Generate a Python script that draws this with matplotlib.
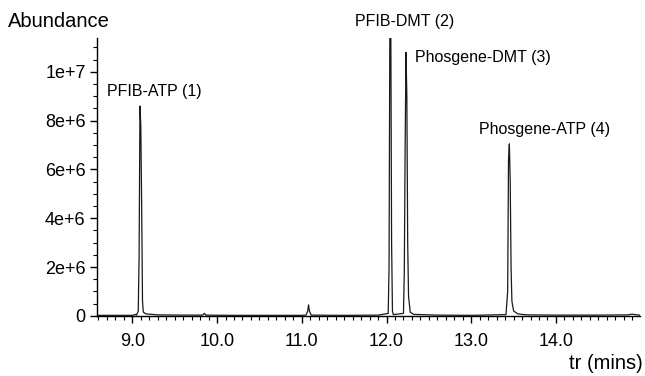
import matplotlib
matplotlib.use("Agg")
import matplotlib.pyplot as plt
from matplotlib.ticker import MultipleLocator, FixedLocator, FixedFormatter

plt.rcParams['font.family'] = ['Liberation Sans', 'DejaVu Sans']

# Chromatogram trace (time in min, abundance)
tr_mins = [8.58, 8.80, 9.00, 9.04, 9.05, 9.07, 9.08, 9.09, 9.10, 9.11, 9.12, 9.13,
           9.16, 9.30, 9.60, 9.83, 9.85, 9.87, 10.20, 10.60, 11.00, 11.05, 11.07,
           11.08, 11.09, 11.11, 11.50, 11.90, 12.02, 12.03, 12.04, 12.05, 12.06,
           12.07, 12.08, 12.20, 12.21, 12.22, 12.23, 12.24, 12.25, 12.26, 12.28,
           12.32, 12.60, 13.00, 13.41, 13.43, 13.44, 13.45, 13.46, 13.47, 13.48,
           13.50, 13.55, 13.65, 14.00, 14.50, 14.85, 14.90, 14.95, 14.99]
abundance = [2e4, 2e4, 2e4, 6e4, 3e4, 2e5, 2.5e6, 8.6e6, 7.8e6, 4.5e6, 6e5, 1.5e5,
             8e4, 4e4, 3e4, 3e4, 1e5, 3e4, 2e4, 2e4, 2e4, 3e4, 2e5,
             4.5e5, 2e5, 3e4, 2e4, 3e4, 1e5, 2e6, 1.25e7, 1.25e7, 3e6,
             2e5, 5e4, 1e5, 1.8e6, 7e6, 1.08e7, 9e6, 3e6, 8e5, 1.5e5,
             6e4, 3e4, 2e4, 5e4, 1e6, 6.4e6, 7.05e6, 5.5e6, 2e6, 6e5,
             2e5, 8e4, 4e4, 3e4, 3e4, 4e4, 7e4, 4e4, 3e4]

peak_labels = ['PFIB-ATP (1)', 'PFIB-DMT (2)', 'Phosgene-DMT (3)', 'Phosgene-ATP (4)']
label_x = [8.698, 11.626, 12.334, 13.090]
label_y = [9.20e6, 1.207e7, 1.059e7, 7.64e6]

ytick_values = [0, 2e6, 4e6, 6e6, 8e6, 1e7]
ytick_labels = ['0', '2e+6', '4e+6', '6e+6', '8e+6', '1e+7']
xtick_values = [9.0, 10.0, 11.0, 12.0, 13.0, 14.0]
xtick_labels = ['9.0', '10.0', '11.0', '12.0', '13.0', '14.0']

fig = plt.figure(figsize=(6.45, 3.76), dpi=100)
ax = fig.add_axes([0.150, 0.160, 0.842, 0.739])

ax.plot(tr_mins, abundance, color='#1a1a1a', linewidth=0.9)

ax.set_xlim(8.58, 14.99)
ax.set_ylim(0, 1.139e7)

ax.spines['top'].set_visible(False)
ax.spines['right'].set_visible(False)
ax.spines['left'].set_linewidth(1.0)
ax.spines['bottom'].set_linewidth(1.0)

ax.xaxis.set_major_locator(FixedLocator(xtick_values))
ax.xaxis.set_major_formatter(FixedFormatter(xtick_labels))
ax.xaxis.set_minor_locator(MultipleLocator(0.1))
ax.yaxis.set_major_locator(FixedLocator(ytick_values))
ax.yaxis.set_major_formatter(FixedFormatter(ytick_labels))
ax.yaxis.set_minor_locator(MultipleLocator(5e5))

ax.tick_params(which='major', length=5, width=1, labelsize=13, pad=3)
ax.tick_params(which='minor', length=3, width=0.8)
ax.tick_params(axis='x', which='major', pad=7)

for txt, x, y in zip(peak_labels, label_x, label_y):
    ax.text(x, y, txt, ha='left', va='center', fontsize=11.5, clip_on=False)

fig.text(0.012, 0.942, 'Abundance', fontsize=14.5, ha='left', va='center')
fig.text(0.997, 0.032, 'tr (mins)', fontsize=14.5, ha='right', va='center')

plt.savefig('out.png', dpi=100)
